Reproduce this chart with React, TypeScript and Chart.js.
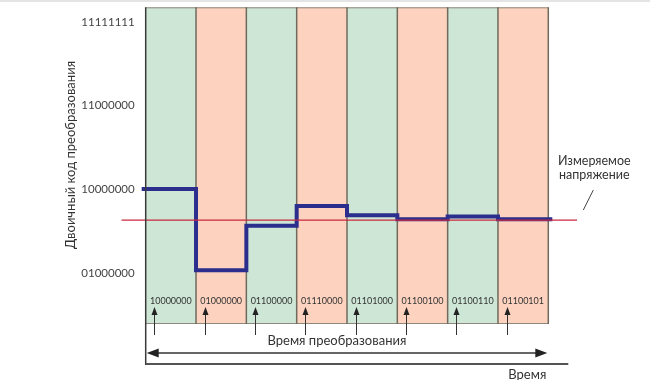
import React, { useEffect, useRef } from "react";
import { Chart, registerables } from "chart.js";

Chart.register(...registerables);

// ---- data ----
const BAND_CODES = ["10000000", "01000000", "01100000", "01110000", "01101000", "01100100", "01100110", "01100101"];
const STEP_VALUES = [128, 66, 100, 115, 108, 105, 107, 105];
const MEASURED_VALUE = 104.3;
const Y_TICKS = [64, 128, 192, 255];
const Y_MIN = 25.1;
const Y_MAX = 266.4;
const Y_TITLE = "Двоичный код преобразования";
const CONV_LABEL = "Время преобразования";
const TIME_LABEL = "Время";
const MEAS_LABEL = ["Измеряемое", "напряжение"];

// ---- style ----
const BAND_COLORS = ["#cde6d5", "#fdd2bf"];
const STEP_COLOR = "#2b2e8c";
const MEAS_COLOR = "#c9283e";
const FONT = "Lato, 'Open Sans', sans-serif";
const STEP_OVERHANG = 0.08;
const MEAS_OVERHANG_L = 0.48;
const MEAS_OVERHANG_R = 0.57;

const toBinary = (v: number) => Math.round(v).toString(2).padStart(8, "0");

function arrowHead(ctx: CanvasRenderingContext2D, tx: number, ty: number, dx: number, dy: number, len: number, half: number) {
  const bx = tx - dx * len;
  const by = ty - dy * len;
  const px = -dy;
  const py = dx;
  ctx.beginPath();
  ctx.moveTo(tx, ty);
  ctx.lineTo(bx + px * half, by + py * half);
  ctx.lineTo(bx - px * half, by - py * half);
  ctx.closePath();
  ctx.fill();
}

const decorPlugin = {
  id: "decor",
  beforeDatasetsDraw(chart: any) {
    const { ctx, chartArea } = chart;
    const xs = chart.scales.x;
    const { top, bottom } = chartArea;
    ctx.save();
    BAND_CODES.forEach((_, i) => {
      const x0 = xs.getPixelForValue(i);
      const x1 = xs.getPixelForValue(i + 1);
      ctx.fillStyle = BAND_COLORS[i % 2];
      ctx.fillRect(x0, top, x1 - x0, bottom - top);
    });
    ctx.strokeStyle = "#8c877a";
    ctx.lineWidth = 1;
    ctx.beginPath();
    ctx.moveTo(xs.getPixelForValue(0), top + 0.5);
    ctx.lineTo(xs.getPixelForValue(BAND_CODES.length), top + 0.5);
    ctx.moveTo(xs.getPixelForValue(0), bottom - 0.5);
    ctx.lineTo(xs.getPixelForValue(BAND_CODES.length), bottom - 0.5);
    ctx.stroke();
    ctx.strokeStyle = "#6f6a5c";
    ctx.lineWidth = 1.5;
    for (let i = 1; i <= BAND_CODES.length; i++) {
      const x = xs.getPixelForValue(i);
      ctx.beginPath();
      ctx.moveTo(x, top);
      ctx.lineTo(x, bottom);
      ctx.stroke();
    }
    ctx.fillStyle = "#333";
    ctx.font = `9px ${FONT}`;
    ctx.textAlign = "center";
    ctx.textBaseline = "middle";
    BAND_CODES.forEach((code, i) => {
      ctx.fillText(code, xs.getPixelForValue(i + 0.5), bottom - 23);
    });
    ctx.restore();
  },
  afterDraw(chart: any) {
    const { ctx, chartArea } = chart;
    const xs = chart.scales.x;
    const { top, bottom, left } = chartArea;
    const xEnd = xs.getPixelForValue(BAND_CODES.length);
    ctx.save();
    ctx.fillStyle = "#e4e4e4";
    ctx.fillRect(0, 0, chart.width, 2);

    ctx.strokeStyle = "#3a3a3a";
    ctx.lineWidth = 1.5;
    ctx.beginPath();
    ctx.moveTo(left, top);
    ctx.lineTo(left, bottom + 41);
    ctx.stroke();
    ctx.strokeStyle = "#555";
    ctx.lineWidth = 2;
    ctx.beginPath();
    ctx.moveTo(left, bottom + 40);
    ctx.lineTo(xEnd + 20, bottom + 40);
    ctx.stroke();

    const ay = bottom + 29;
    const ax0 = left + 1;
    const ax1 = xEnd - 1;
    ctx.strokeStyle = "#333";
    ctx.fillStyle = "#222";
    ctx.lineWidth = 1.6;
    ctx.beginPath();
    ctx.moveTo(ax0 + 6, ay);
    ctx.lineTo(ax1 - 6, ay);
    ctx.stroke();
    arrowHead(ctx, ax0, ay, -1, 0, 12, 4.5);
    arrowHead(ctx, ax1, ay, 1, 0, 12, 4.5);

    ctx.lineWidth = 1;
    BAND_CODES.forEach((_, i) => {
      const x = Math.round(xs.getPixelForValue(i + 0.17)) + 0.5;
      ctx.beginPath();
      ctx.moveTo(x, bottom + 11);
      ctx.lineTo(x, bottom - 12);
      ctx.stroke();
      arrowHead(ctx, x, bottom - 17, 0, -1, 8, 3);
    });

    ctx.fillStyle = "#333";
    ctx.textAlign = "center";
    ctx.textBaseline = "middle";
    ctx.font = `13px ${FONT}`;
    ctx.fillText(CONV_LABEL, xs.getPixelForValue(3.8), bottom + 17);
    ctx.fillText(TIME_LABEL, xEnd - 21, bottom + 51);
    ctx.font = `12.5px ${FONT}`;
    const mx = xEnd + 46;
    const my = chart.scales.y.getPixelForValue(MEASURED_VALUE);
    ctx.fillText(MEAS_LABEL[0], mx, my - 59);
    ctx.fillText(MEAS_LABEL[1], mx, my - 45);
    ctx.strokeStyle = "#444";
    ctx.lineWidth = 1;
    ctx.beginPath();
    ctx.moveTo(mx - 11, my - 10);
    ctx.lineTo(mx - 1, my - 30);
    ctx.stroke();

    ctx.save();
    ctx.translate(71, 155);
    ctx.rotate(-Math.PI / 2);
    ctx.font = `13px ${FONT}`;
    ctx.fillStyle = "#333";
    ctx.fillText(Y_TITLE, 0, 0);
    ctx.restore();

    ctx.restore();
  },
};

export default function App() {
  const ref = useRef<HTMLCanvasElement | null>(null);
  useEffect(() => {
    if (!ref.current) return;
    const n = STEP_VALUES.length;
    const stepData = STEP_VALUES.map((v, i) => ({ x: i === 0 ? -STEP_OVERHANG : i, y: v }));
    stepData.push({ x: n + STEP_OVERHANG, y: STEP_VALUES[n - 1] });
    const measData = [
      { x: -MEAS_OVERHANG_L, y: MEASURED_VALUE },
      { x: n + MEAS_OVERHANG_R, y: MEASURED_VALUE },
    ];
    const chart = new Chart(ref.current, {
      type: "line",
      data: {
        datasets: [
          {
            label: "Измеряемое напряжение",
            data: measData,
            borderColor: MEAS_COLOR,
            borderWidth: 1.2,
            pointRadius: 0,
            clip: false as any,
          },
          {
            label: "Код",
            data: stepData,
            stepped: "before",
            borderColor: STEP_COLOR,
            borderWidth: 4,
            pointRadius: 0,
            borderJoinStyle: "miter",
            borderCapStyle: "butt",
            clip: false as any,
          },
        ],
      },
      options: {
        animation: false,
        responsive: false,
        devicePixelRatio: 1,
        layout: { padding: { left: 0, top: 7.3, right: 650 - 548.3, bottom: 380 - 324 } },
        plugins: { legend: { display: false }, tooltip: { enabled: false } },
        scales: {
          x: { type: "linear", min: 0, max: n, display: false },
          y: {
            type: "linear",
            min: Y_MIN,
            max: Y_MAX,
            grid: { display: false, drawTicks: false },
            border: { display: false },
            afterBuildTicks: (scale: any) => {
              scale.ticks = Y_TICKS.map((v) => ({ value: v }));
            },
            afterFit: (scale: any) => {
              scale.width = 145.7;
              scale.paddingTop = 0;
              scale.paddingBottom = 0;
            },
            ticks: {
              padding: 11,
              color: "#444",
              font: { family: FONT, size: 11.5 },
              callback: (v: any) => toBinary(Number(v)),
            },
          },
        },
      },
      plugins: [decorPlugin],
    });
    return () => chart.destroy();
  }, []);
  return (
    <div style={{ position: "fixed", left: 0, top: 0, width: 650, height: 380, background: "#fff" }}>
      <canvas ref={ref} width={650} height={380} style={{ width: 650, height: 380, display: "block" }} />
    </div>
  );
}
